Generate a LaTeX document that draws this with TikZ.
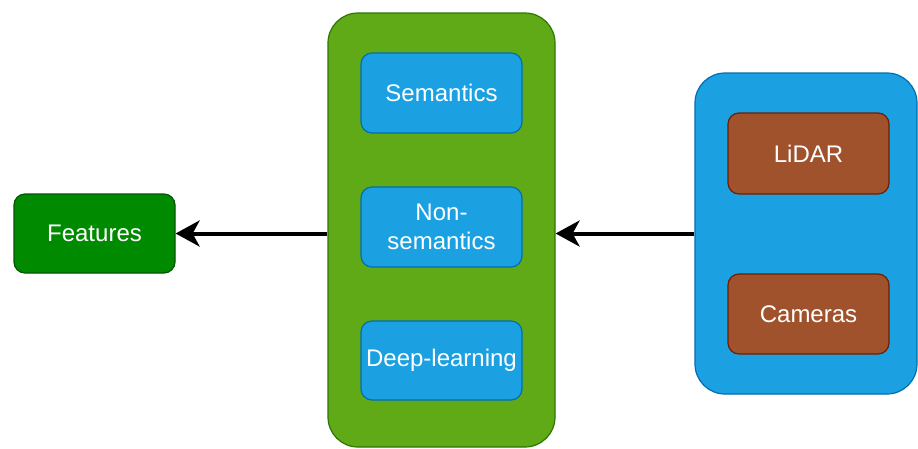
\documentclass[tikz,border=0pt]{standalone}
\usepackage{fontspec}
\setmainfont{Liberation Sans}
\usetikzlibrary{arrows.meta}
\definecolor{featfill}{HTML}{008A00}
\definecolor{featdraw}{HTML}{005700}
\definecolor{grnfill}{HTML}{60A917}
\definecolor{grndraw}{HTML}{2D7600}
\definecolor{bluefill}{HTML}{1BA1E2}
\definecolor{bluedraw}{HTML}{006EAF}
\definecolor{brnfill}{HTML}{A0522D}
\definecolor{brndraw}{HTML}{6D1F00}
\tikzset{
  box/.style={rectangle, rounded corners=11pt, line width=1.2pt, inner sep=0pt,
    minimum width=161pt, minimum height=80pt, text width=158pt, align=center,
    text=white, font=\fontsize{24}{29}\selectfont},
  container/.style={rectangle, rounded corners=30pt, line width=1.2pt, inner sep=0pt},
  conn/.style={line width=4pt, -{Stealth[length=24pt, width=26pt, inset=7pt]}}
}
\begin{document}
\begin{tikzpicture}[x=1pt, y=-1pt]
\useasboundingbox (0,0) rectangle (918,448);
% containers
\node[container, fill=grnfill, draw=grndraw, minimum width=227pt, minimum height=434pt] (green) at (441.5,230) {};
\node[container, fill=bluefill, draw=bluedraw, minimum width=222pt, minimum height=321pt] (blue) at (806,233.5) {};
% boxes
\node[box, fill=featfill, draw=featdraw, minimum height=79pt] (feat) at (94.5,233.5) {Features};
\node[box, fill=bluefill, draw=bluedraw] (sem) at (441.5,93) {Semantics};
\node[box, fill=bluefill, draw=bluedraw] (nonsem) at (441.5,227) {Non-\\semantics};
\node[box, fill=bluefill, draw=bluedraw, minimum height=79pt] (deep) at (441.5,360.5) {Deep-learning};
\node[box, fill=brnfill, draw=brndraw, minimum height=81pt] (lidar) at (808.5,153.5) {LiDAR};
\node[box, fill=brnfill, draw=brndraw] (cam) at (808.5,314) {Cameras};
% connectors
\draw[conn] (blue.west) -- (blue.west -| green.east);
\draw[conn] (feat.east -| green.west) -- (feat.east);
\end{tikzpicture}
\end{document}
